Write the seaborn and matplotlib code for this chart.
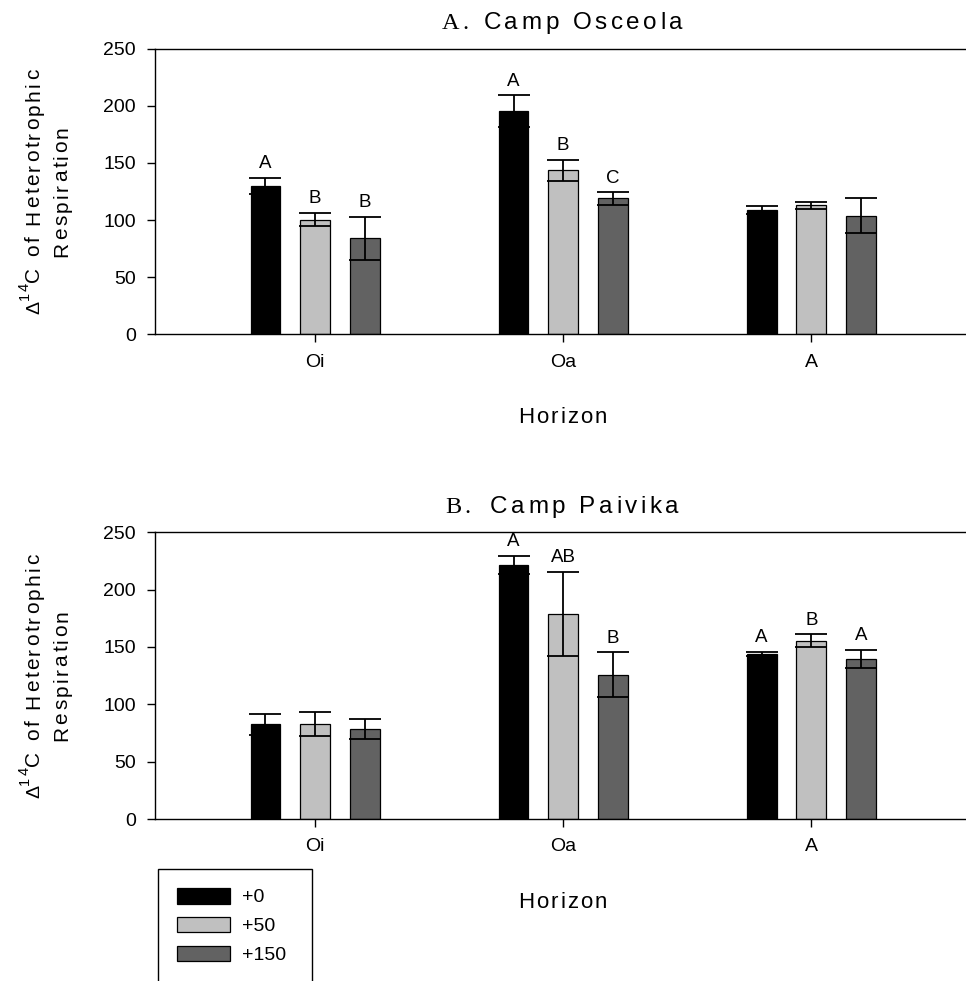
import numpy as np
import pandas as pd
import matplotlib
matplotlib.use("Agg")
import matplotlib.pyplot as plt
import seaborn as sns
from matplotlib.ft2font import FT2Font
from matplotlib.font_manager import findfont, FontProperties

# ---------------- data ----------------
horizons = ["Oi", "Oa", "A"]
treatments = ["+0", "+50", "+150"]
colors = ["#000000", "#c0c0c0", "#626262"]

osc_p0 = [130, 195, 108.5]
osc_p50 = [100.5, 143.5, 113]
osc_p150 = [84, 119, 104]
osc_err_p0 = [7, 14, 3.5]
osc_err_p50 = [6, 9, 3]
osc_err_p150 = [19, 5.5, 15]
osc_letters_p0 = ["A", "A", ""]
osc_letters_p50 = ["B", "B", ""]
osc_letters_p150 = ["B", "C", ""]

pai_p0 = [82.5, 221.5, 144]
pai_p50 = [82.5, 179, 155.5]
pai_p150 = [78.5, 126, 139.5]
pai_err_p0 = [9, 8, 2]
pai_err_p50 = [10.5, 36.5, 5.5]
pai_err_p150 = [8.5, 19.5, 8]
pai_letters_p0 = ["", "A", "A"]
pai_letters_p50 = ["", "AB", "B"]
pai_letters_p150 = ["", "B", "A"]

yticks = [0, 50, 100, 150, 200, 250]

# ---------------- style ----------------
sns.set_theme(style="ticks", rc={
    "axes.edgecolor": "black", "xtick.color": "black", "ytick.color": "black",
    "axes.linewidth": 1.0, "text.color": "black", "axes.labelcolor": "black",
})
plt.rcParams["font.family"] = ["Liberation Sans", "DejaVu Sans"]

W, H = 966, 981
fig = plt.figure(figsize=(W / 100, H / 100), dpi=100)

_fonts = {}


def advances(s, family, size):
    key = (family, size)
    if key not in _fonts:
        f = FT2Font(findfont(FontProperties(family=family)), hinting_factor=1)
        f.set_size(size, fig.dpi)
        _fonts[key] = f
    f = _fonts[key]
    return [f.load_char(ord(c)).linearHoriAdvance / 65536 for c in s]


def spaced_text(x_px, y_px, s, family, size, spacing, ha="left"):
    adv = advances(s, family, size)
    total = sum(adv) + spacing * (len(s) - 1)
    x = x_px - (total / 2 if ha == "center" else 0)
    for c, a in zip(s, adv):
        if c != " ":
            fig.text(x / W, 1 - y_px / H, c, family=family, fontsize=size,
                     ha="left", va="baseline")
        x += a + spacing


def vertical_text(x_base_px, y_center_px, segments):
    """segments: list of (text, family, size, spacing, baseline_shift_px)"""
    items = []
    for s, fam, size, sp, shift in segments:
        for c, a in zip(s, advances(s, fam, size)):
            items.append((c, fam, size, a, sp, shift))
    total = sum(a + sp for _, _, _, a, sp, _ in items) - items[-1][4]
    y = y_center_px + total / 2
    for c, fam, size, a, sp, shift in items:
        if c != " ":
            fig.text((x_base_px - shift) / W, 1 - y / H, c, family=fam,
                     fontsize=size, rotation=90, rotation_mode="anchor",
                     ha="left", va="baseline")
        y -= a + sp


def panel(ax, means, errs, letters, show_legend):
    rows = []
    for t, m in zip(treatments, means):
        for h, v in zip(horizons, m):
            rows.append({"Horizon": h, "Treatment": t, "value": v})
    df = pd.DataFrame(rows)
    sns.barplot(data=df, x="Horizon", y="value", hue="Treatment",
                order=horizons, hue_order=treatments, palette=colors,
                saturation=1, width=0.6, gap=0.4, edgecolor="black",
                linewidth=0.9, errorbar=None, ax=ax, legend=show_legend)
    for cont, e, lab in zip(ax.containers, errs, letters):
        xs = [p.get_x() + p.get_width() / 2 for p in cont.patches]
        hs = [p.get_height() for p in cont.patches]
        ax.errorbar(xs, hs, yerr=e, fmt="none", ecolor="black",
                    elinewidth=1.3, capsize=11.5, capthick=1.3, zorder=5)
        for x, h, ee, l in zip(xs, hs, e, lab):
            if l:
                ax.annotate(l, (x, h + ee), xytext=(0, 4),
                            textcoords="offset points", ha="center",
                            va="bottom", fontsize=13.5)
    ax.set_ylim(0, 250)
    ax.set_yticks(yticks)
    ax.set_xlim(-0.645, 2.645)
    ax.set_xlabel("")
    ax.set_ylabel("")
    ax.tick_params(axis="both", direction="out", length=5.8, width=1.0,
                   labelsize=14, pad=8)
    for s in ["top", "left", "bottom"]:
        ax.spines[s].set_visible(True)
        ax.spines[s].set_linewidth(1.0)
    ax.spines["right"].set_visible(False)


left = 155 / W
width = (971.3 - 155) / W
ax1 = fig.add_axes([left, 1 - 334.5 / H, width, (334.5 - 48.5) / H])
ax2 = fig.add_axes([left, 1 - 819 / H, width, (819 - 532.3) / H])

panel(ax1, [osc_p0, osc_p50, osc_p150], [osc_err_p0, osc_err_p50, osc_err_p150],
      [osc_letters_p0, osc_letters_p50, osc_letters_p150], False)
panel(ax2, [pai_p0, pai_p50, pai_p150], [pai_err_p0, pai_err_p50, pai_err_p150],
      [pai_letters_p0, pai_letters_p50, pai_letters_p150], True)

# titles
spaced_text(441.7, 29.3, "A.", "Liberation Serif", 17.5, 3.0)
spaced_text(483.3, 29.3, "Camp Osceola", "Liberation Sans", 17.5, 3.7)
spaced_text(445, 513.3, "B.", "Liberation Serif", 17.5, 3.0)
spaced_text(490, 513.3, "Camp Paivika", "Liberation Sans", 17.5, 3.7)

# x labels
spaced_text(562.5, 423.3, "Horizon", "Liberation Sans", 16, 2.0, ha="center")
spaced_text(562.5, 907.8, "Horizon", "Liberation Sans", 16, 2.0, ha="center")

# y labels (two lines, letter-spaced, rotated)
ylab_l1 = [("Δ", "Liberation Sans", 14, 1.0, 0),
           ("14", "Liberation Sans", 10.5, 1.0, 11),
           ("C of Heterotrophic", "Liberation Sans", 15, 2.5, 0)]
ylab_l2 = [("Respiration", "Liberation Sans", 15, 2.5, 0)]
for top_px, bot_px in [(48.5, 334.5), (532.3, 819)]:
    yc = (top_px + bot_px) / 2
    vertical_text(39.5, yc, ylab_l1)
    vertical_text(67.5, yc, ylab_l2)

# legend
sns.move_legend(ax2, loc="upper left",
                bbox_to_anchor=(158.3 / W, 0.0, (312.3 - 158.3) / W, 1 - 869.3 / H),
                bbox_transform=fig.transFigure, mode="expand", title=None,
                frameon=True, fontsize=14, handlelength=2.73, handleheight=0.87,
                handletextpad=0.63, labelspacing=0.53, borderpad=0.95,
                borderaxespad=0, fancybox=False, edgecolor="black", framealpha=1)
leg = ax2.get_legend()
leg.get_frame().set_linewidth(1.0)
for hnd in leg.legend_handles:
    hnd.set_edgecolor("black")
    hnd.set_linewidth(0.9)

fig.savefig("out.png", dpi=100)
